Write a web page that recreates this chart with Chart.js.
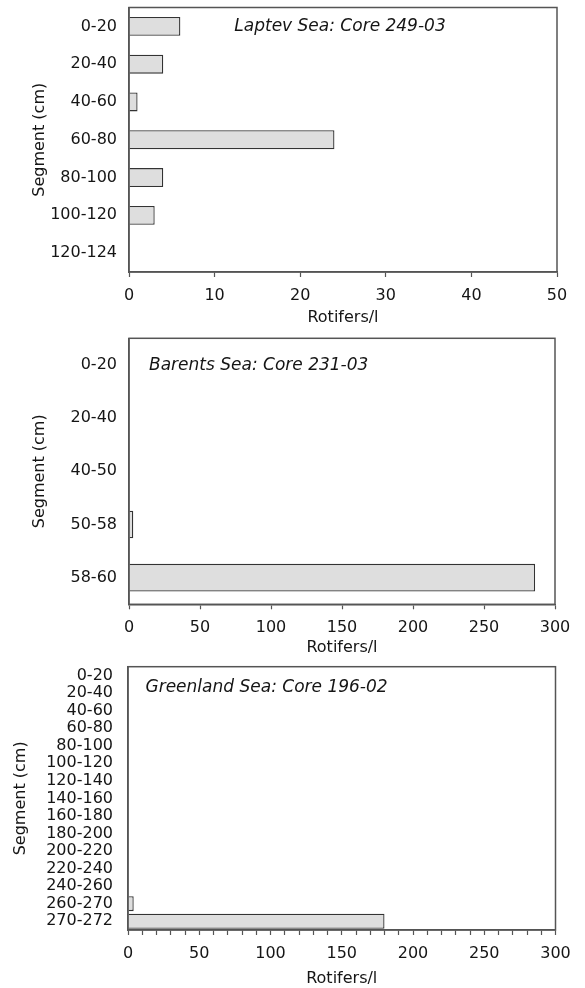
<!DOCTYPE html>
<html>
<head>
<meta charset="utf-8">
<script src="https://cdn.jsdelivr.net/npm/chart.js@4.4.0/dist/chart.umd.min.js"></script>
<style>
  html, body { margin: 0; padding: 0; background: #fff; }
  canvas { position: absolute; left: 0; }
</style>
</head>
<body>
<canvas id="laptev" width="585" height="330" style="top:0px"></canvas>
<canvas id="barents" width="585" height="330" style="top:330px"></canvas>
<canvas id="greenland" width="585" height="328" style="top:660px"></canvas>
<script>
// Laptev Sea: Core 249-03
const laptevSegments = ["0-20", "20-40", "40-60", "60-80", "80-100", "100-120", "120-124"];
const laptevRotifers = [6, 4, 1, 24, 4, 3, 0];

// Barents Sea: Core 231-03
const barentsSegments = ["0-20", "20-40", "40-50", "50-58", "58-60"];
const barentsRotifers = [0, 0, 0, 3, 286];

// Greenland Sea: Core 196-02
const greenlandSegments = ["0-20", "20-40", "40-60", "60-80", "80-100", "100-120", "120-140",
  "140-160", "160-180", "180-200", "200-220", "220-240", "240-260", "260-270", "270-272"];
const greenlandRotifers = [0, 0, 0, 0, 0, 0, 0, 0, 0, 0, 0, 0, 0, 4, 180];

// x axis: max, step between ticks, step between labels
const laptevAxis = [50, 10, 10];
const barentsAxis = [300, 50, 50];
const greenlandAxis = [300, 10, 50];

const FONT = "'DejaVu Sans', sans-serif";
const INK = "#151515";
const LINE = "#555";

// box around the plot area and the core name written inside it
const framePlugin = {
  id: "frame",
  afterDraw(chart, args, opts) {
    const { ctx, chartArea: a } = chart;
    ctx.save();
    ctx.strokeStyle = LINE;
    ctx.lineWidth = 1.5;
    ctx.strokeRect(a.left, a.top, a.right - a.left, a.bottom - a.top);
    ctx.fillStyle = INK;
    ctx.font = "italic 17px " + FONT;
    ctx.textBaseline = "middle";
    ctx.textAlign = opts.align;
    ctx.fillText(opts.text, a.left + opts.dx, a.top + opts.dy);
    ctx.restore();
  }
};

function makeChart(id, segments, values, axis, s) {
  const [max, step, labelStep] = axis;
  return new Chart(document.getElementById(id), {
    type: "bar",
    data: {
      labels: segments,
      datasets: [{
        data: values,
        backgroundColor: "#dedede",
        borderColor: "#333",
        borderWidth: 1.3,
        categoryPercentage: 1,
        barPercentage: s.barPct
      }]
    },
    options: {
      indexAxis: "y",
      responsive: false,
      animation: false,
      devicePixelRatio: 1,
      layout: { padding: { top: s.top, right: 585 - s.right, left: 0, bottom: 0 } },
      plugins: {
        legend: { display: false },
        tooltip: { enabled: false },
        frame: s.title
      },
      scales: {
        x: {
          min: 0,
          max: max,
          border: { display: true, color: LINE, width: 1.5 },
          grid: { drawOnChartArea: false, drawTicks: true, tickLength: 5, tickColor: LINE, tickWidth: 1.2 },
          ticks: {
            stepSize: step,
            autoSkip: false,
            maxRotation: 0,
            padding: 9,
            color: INK,
            font: { family: FONT, size: 16 },
            callback: v => (v % labelStep === 0 ? v : "")
          },
          title: {
            display: true,
            text: "Rotifers/l",
            color: INK,
            font: { family: FONT, size: 16 },
            padding: { top: 0, bottom: s.xTitlePad }
          },
          afterFit: sc => { sc.height = s.xHeight; sc.paddingLeft = 0; sc.paddingRight = 0; }
        },
        y: {
          border: { display: true, color: LINE, width: 1.5 },
          grid: { display: false, drawTicks: false },
          ticks: {
            autoSkip: false,
            padding: s.yTickPad,
            color: INK,
            font: { family: FONT, size: 16 }
          },
          title: {
            display: true,
            text: "Segment (cm)",
            color: INK,
            font: { family: FONT, size: 16 },
            padding: { top: s.yTitlePad, bottom: 0 }
          },
          afterFit: sc => { sc.width = s.yWidth; sc.paddingTop = 0; sc.paddingBottom = 0; }
        }
      }
    },
    plugins: [framePlugin]
  });
}

makeChart("laptev", laptevSegments, laptevRotifers, laptevAxis, {
  barPct: 0.5, top: 7.5, right: 557, xHeight: 58, yWidth: 129,
  yTickPad: 12, yTitlePad: 30, xTitlePad: 2.4,
  title: { text: "Laptev Sea: Core 249-03", align: "center", dx: 211, dy: 19 }
});

makeChart("barents", barentsSegments, barentsRotifers, barentsAxis, {
  barPct: 0.52, top: 8.3, right: 555, xHeight: 55.7, yWidth: 129,
  yTickPad: 12, yTitlePad: 30, xTitlePad: 2.4,
  title: { text: "Barents Sea: Core 231-03", align: "left", dx: 20, dy: 27 }
});

makeChart("greenland", greenlandSegments, greenlandRotifers, greenlandAxis, {
  barPct: 0.85, top: 6.7, right: 555.5, xHeight: 58, yWidth: 128,
  yTickPad: 15, yTitlePad: 11, xTitlePad: 0,
  title: { text: "Greenland Sea: Core 196-02", align: "left", dx: 17.5, dy: 21 }
});
</script>
</body>
</html>
